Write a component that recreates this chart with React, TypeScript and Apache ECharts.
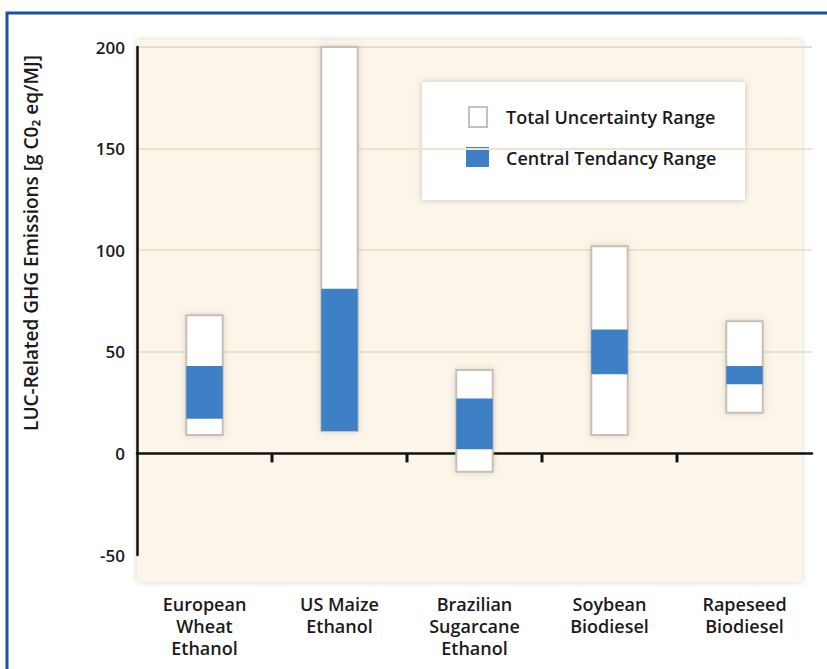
import React, { useEffect, useRef } from "react";
import * as echarts from "echarts";

const categories = [
  "European\nWheat\nEthanol",
  "US Maize\nEthanol",
  "Brazilian\nSugarcane\nEthanol",
  "Soybean\nBiodiesel",
  "Rapeseed\nBiodiesel",
];
const totalLow = [9, 11, -9, 9, 20];
const totalHigh = [68, 200, 41, 102, 65];
const centralLow = [17, 11, 2, 39, 34];
const centralHigh = [43, 81, 27, 61, 43];
const yMin = -50;
const yMax = 200;
const yInterval = 50;
const yTitle = "LUC-Related GHG Emissions [g C0\u2082 eq/MJ]";
const legendNames = ["Total Uncertainty Range", "Central Tendancy Range"];

const FONT = '"Open Sans", "Noto Sans", sans-serif';
const TEXT = "#1c1a1b";
const BLUE = "#3d80c6";

export default function App() {
  const ref = useRef<HTMLDivElement>(null);
  useEffect(() => {
    if (!ref.current) return;
    const chart = echarts.init(ref.current, null, { renderer: "svg" });
    const rangeItem = (fill: string, stroke: string | null) => (params: any, api: any) => {
      const x = api.value(0);
      const lo = api.value(1);
      const hi = api.value(2);
      const pTop = api.coord([x, hi]);
      const pBot = api.coord([x, lo]);
      const w = api.size([1, 0])[0] * 0.27;
      return {
        type: "rect",
        shape: { x: pTop[0] - w / 2, y: pTop[1], width: w, height: pBot[1] - pTop[1] },
        style: stroke
          ? { fill, stroke, lineWidth: 2, shadowBlur: 6, shadowColor: "rgba(120,100,80,0.25)" }
          : { fill },
      };
    };
    // Tick marks on the zero line between neighbouring categories
    const tickItem = (params: any, api: any) => {
      const i = api.value(0);
      const p = api.coord([i, 0]);
      const half = api.size([1, 0])[0] / 2;
      const x = p[0] - half;
      return {
        type: "line",
        shape: { x1: x, y1: p[1], x2: x, y2: p[1] + 9 },
        style: { stroke: "#111", lineWidth: 3 },
      };
    };
    chart.setOption({
      animation: false,
      backgroundColor: "#ffffff",
      grid: { left: 137, right: 15, top: 47, bottom: 114, containLabel: false },
      graphic: [
        {
          type: "rect",
          z: -10,
          shape: { x: 137, y: 40, width: 665, height: 542 },
          style: { fill: "#fcf6ea", shadowBlur: 6, shadowColor: "rgba(150,130,110,0.35)" },
          silent: true,
        },
        {
          type: "polyline",
          z: 100,
          shape: { points: [[7, 669], [7, 13], [827, 13]] },
          style: { stroke: "#1d4fa3", lineWidth: 3, fill: "none" },
          silent: true,
        },
        {
          type: "text",
          z: 50,
          x: 31,
          y: 243,
          rotation: Math.PI / 2,
          style: {
            text: yTitle,
            font: `600 19px ${FONT}`,
            fill: TEXT,
            align: "center",
            verticalAlign: "middle",
          },
        },
        {
          type: "group",
          z: 50,
          children: [
            {
              type: "rect",
              shape: { x: 422, y: 82, width: 323, height: 118 },
              style: { fill: "#ffffff", shadowBlur: 6, shadowColor: "rgba(120,110,100,0.4)" },
            },
            {
              type: "rect",
              shape: { x: 469, y: 107, width: 18, height: 20 },
              style: { fill: "#ffffff", stroke: "#c8bfb7", lineWidth: 2 },
            },
            {
              type: "text",
              x: 506,
              y: 117,
              style: {
                text: legendNames[0],
                font: `600 18px ${FONT}`,
                fill: TEXT,
                verticalAlign: "middle",
              },
            },
            {
              type: "rect",
              shape: { x: 466, y: 147, width: 23, height: 20 },
              style: { fill: BLUE },
            },
            {
              type: "text",
              x: 506,
              y: 158,
              style: {
                text: legendNames[1],
                font: `600 18px ${FONT}`,
                fill: TEXT,
                verticalAlign: "middle",
              },
            },
          ],
        },
      ],
      xAxis: [
        {
          type: "category",
          data: categories,
          position: "bottom",
          axisLine: { show: true, onZero: true, lineStyle: { color: "#111", width: 2.5 } },
          axisTick: { show: false },
          axisLabel: { show: false },
          splitLine: { show: false },
        },
        {
          type: "category",
          data: categories,
          position: "bottom",
          axisLine: { show: false, onZero: false },
          axisTick: { show: false },
          axisLabel: {
            show: true,
            margin: 38,
            interval: 0,
            color: TEXT,
            fontFamily: FONT,
            fontWeight: 600,
            fontSize: 18,
            lineHeight: 22,
          },
        },
      ],
      yAxis: {
        type: "value",
        min: yMin,
        max: yMax,
        interval: yInterval,
        axisLine: { show: true, lineStyle: { color: "#111", width: 2.5 } },
        axisTick: { show: false },
        axisLabel: { color: TEXT, fontFamily: FONT, fontWeight: 600, fontSize: 17, margin: 12 },
        splitLine: {
          show: true,
          lineStyle: {
            color: ["transparent", "transparent", "#efe2cf", "#efe2cf", "#efe2cf", "#e2ddd8"],
            width: 2,
          },
        },
      },
      series: [
        {
          type: "custom",
          name: "ticks",
          xAxisIndex: 0,
          renderItem: tickItem,
          encode: { x: 0 },
          data: [1, 2, 3, 4].map((i) => [i]),
          z: 5,
          silent: true,
        },
        {
          type: "custom",
          name: legendNames[0],
          xAxisIndex: 0,
          renderItem: rangeItem("#ffffff", "#c8bfb7"),
          encode: { x: 0, y: [1, 2] },
          data: categories.map((_, i) => [i, totalLow[i], totalHigh[i]]),
          z: 3,
        },
        {
          type: "custom",
          name: legendNames[1],
          xAxisIndex: 0,
          renderItem: rangeItem(BLUE, null),
          encode: { x: 0, y: [1, 2] },
          data: categories.map((_, i) => [i, centralLow[i], centralHigh[i]]),
          z: 4,
        },
      ],
    });
    return () => chart.dispose();
  }, []);
  return (
    <div
      ref={ref}
      style={{ position: "fixed", left: 0, top: 0, width: 827, height: 669 }}
    />
  );
}
